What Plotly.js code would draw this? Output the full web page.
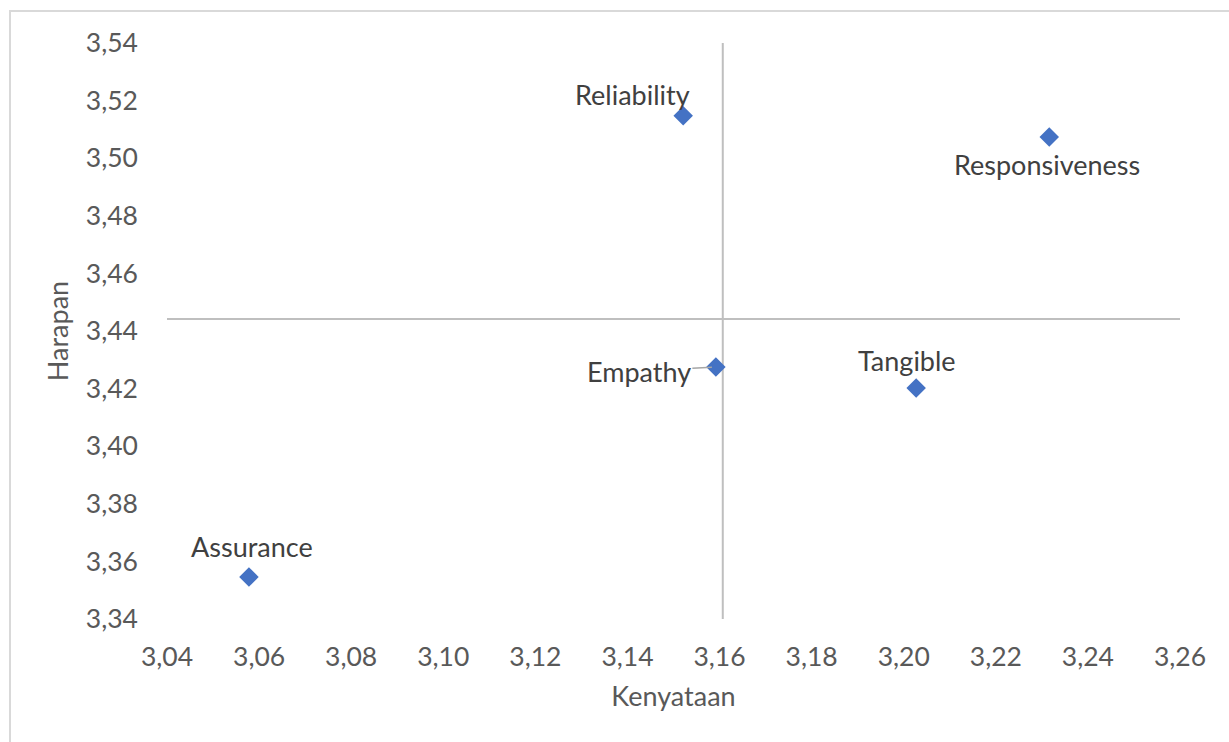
<!DOCTYPE html>
<html>
<head>
<meta charset="utf-8">
<script src="https://cdn.plot.ly/plotly-3.0.1.min.js"></script>
<style>
html,body{margin:0;padding:0;background:#fff;}
#wrap{position:relative;width:1229px;height:742px;overflow:hidden;}
#chart{position:absolute;left:0;top:0;width:1229px;height:742px;}
#frame{position:absolute;left:9px;top:10px;width:1230px;height:740px;border-top:2px solid #d9d9d9;border-left:2px solid #d9d9d9;pointer-events:none;}
</style>
</head>
<body>
<div id="wrap"><div id="chart"></div><div id="frame"></div></div>
<script>
// Data
var dimensions = ["Reliability", "Responsiveness", "Empathy", "Tangible", "Assurance"];
var kenyataan = [3.1521, 3.2316, 3.1592, 3.2027, 3.0578];
var harapan   = [3.5147, 3.5074, 3.4275, 3.4202, 3.3546];
var crossX = 3.1607;   // vertical divider (Kenyataan)
var crossY = 3.4442;   // horizontal divider (Harapan)
var xRange = [3.04, 3.26];
var yRange = [3.34, 3.54];
var xTicks = [3.04, 3.06, 3.08, 3.10, 3.12, 3.14, 3.16, 3.18, 3.20, 3.22, 3.24, 3.26];
var yTicks = [3.34, 3.36, 3.38, 3.40, 3.42, 3.44, 3.46, 3.48, 3.50, 3.52, 3.54];

// label offsets (styling only)
var labelOffsets = {
  "Reliability":    {ax: -51, ay: -21, arrow: false},
  "Responsiveness": {ax: -2,  ay: 28,  arrow: false},
  "Empathy":        {ax: -77, ay: 4,   arrow: true},
  "Tangible":       {ax: -9,  ay: -28, arrow: false},
  "Assurance":      {ax: 3,   ay: -30, arrow: false}
};

var fam = "Lato, 'Open Sans', sans-serif";
var lineStyle = {color: "#bfbfbf", width: 2};
var traces = [
  {x: [crossX, crossX], y: yRange, mode: "lines", line: lineStyle, hoverinfo: "skip", showlegend: false},
  {x: xRange, y: [crossY, crossY], mode: "lines", line: lineStyle, hoverinfo: "skip", showlegend: false},
  {x: kenyataan, y: harapan, text: dimensions, mode: "markers", type: "scatter",
   marker: {symbol: "diamond", size: 15, color: "#4472C4", line: {width: 0}}, showlegend: false}
];

var annotations = dimensions.map(function(d, i){
  var o = labelOffsets[d];
  return {
    x: kenyataan[i], y: harapan[i], xref: "x", yref: "y",
    text: d, showarrow: true, arrowhead: 0, arrowwidth: 1.5,
    arrowcolor: o.arrow ? "#a6a6a6" : "rgba(0,0,0,0)",
    ax: o.ax, ay: o.ay, standoff: 4,
    font: {family: fam, size: 27, color: "#404040"}
  };
});

var tickFont = {family: fam, size: 26.5, color: "#595959"};
var layout = {
  width: 1229, height: 742,
  margin: {l: 167, r: 49, t: 43, b: 123},
  paper_bgcolor: "#fff", plot_bgcolor: "#fff",
  separators: ",.",
  xaxis: {
    range: xRange, tickvals: xTicks, tickformat: ".2f",
    showgrid: false, zeroline: false, showline: false, ticks: "",
    tickfont: tickFont, ticklabelstandoff: 19,
    title: {text: "Kenyataan", font: {family: fam, size: 27, color: "#595959"}, standoff: 16}
  },
  yaxis: {
    range: yRange, tickvals: yTicks, tickformat: ".2f",
    showgrid: false, zeroline: false, showline: false, ticks: "",
    tickfont: tickFont, ticklabelstandoff: 28,
    title: {text: "Harapan", font: {family: fam, size: 27, color: "#595959"}, standoff: 9}
  },
  annotations: annotations,
  showlegend: false
};

Plotly.newPlot("chart", traces, layout, {displayModeBar: false, staticPlot: true});
</script>
</body>
</html>
